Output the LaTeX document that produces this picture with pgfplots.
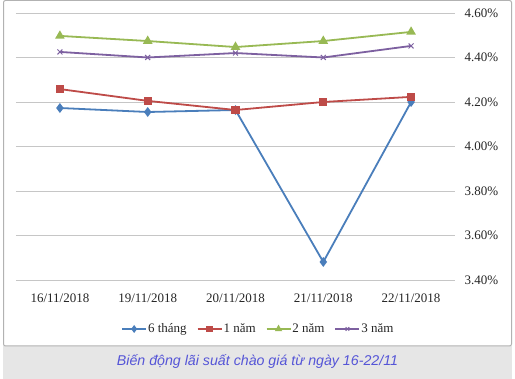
\documentclass[border=0pt]{standalone}
\usepackage{fontspec}
\setmainfont{Liberation Serif}
\newfontfamily\capfont{Liberation Sans}
\usepackage{pgfplots}
\pgfplotsset{compat=1.18}
\definecolor{cblue}{RGB}{74,126,187}
\definecolor{cred}{RGB}{190,75,72}
\definecolor{cgreen}{RGB}{152,185,84}
\definecolor{cpurple}{RGB}{125,96,160}
\definecolor{capbg}{RGB}{230,230,230}
\definecolor{captext}{RGB}{85,85,215}
\begin{document}
\begin{tikzpicture}[x=1pt,y=1pt]
\useasboundingbox (0,0) rectangle (515,379);
\fill[white] (0,0) rectangle (515,379);
\fill[capbg] (3,0) rectangle (512,33);
\draw[gray!60, line width=1pt, rounded corners=2pt] (3.5,33) rectangle (511.5,378.5);
\node[font=\capfont\itshape\fontsize{14.2}{16}\selectfont, text=captext] at (257.5,17) {Biến động lãi suất chào giá từ ngày 16-22/11};
\begin{axis}[
  at={(16pt,99pt)}, anchor=south west,
  scale only axis, width=439pt, height=267pt,
  xmin=-0.5, xmax=4.5, ymin=3.4, ymax=4.6,
  xtick={0,1,2,3,4},
  xticklabels={16/11/2018,19/11/2018,20/11/2018,21/11/2018,22/11/2018},
  ytick={3.4,3.6,3.8,4.0,4.2,4.4,4.6},
  yticklabels={3.40\%,3.60\%,3.80\%,4.00\%,4.20\%,4.40\%,4.60\%},
  yticklabel pos=right,
  axis line style={draw=none},
  major tick style={draw=none},
  ymajorgrids, grid style={gray!45, line width=0.8pt},
  ticklabel style={font=\fontsize{13}{15}\selectfont, text=black!85},
  xticklabel style={anchor=center, yshift=-18pt},
  yticklabel style={anchor=west, xshift=6pt},
  clip=false,
  legend columns=4,
  legend style={at={(0.551,-0.1835)}, anchor=center, draw=none, fill=none,
    font=\fontsize{13}{15}\selectfont, text=black!85,
    nodes={inner xsep=1pt},
    /tikz/every even column/.append style={column sep=9pt}},
  legend image code/.code={\draw[mark repeat=2,mark phase=2, mark size=2.5pt] plot coordinates {(0pt,0pt)(12pt,0pt)(24pt,0pt)};},
  every axis plot/.append style={line width=1.8pt},
]
\addplot[color=cblue, mark=diamond*, mark size=3.5pt, mark options={solid}] coordinates {(0,4.173) (1,4.155) (2,4.164) (3,3.481) (4,4.20)};
\addlegendentry{6 tháng}
\addplot[color=cred, mark=square*, mark size=3.2pt] coordinates {(0,4.258) (1,4.205) (2,4.164) (3,4.20) (4,4.223)};
\addlegendentry{1 năm}
\addplot[color=cgreen, mark=triangle*, mark size=3.8pt] coordinates {(0,4.497) (1,4.474) (2,4.447) (3,4.474) (4,4.515)};
\addlegendentry{2 năm}
\addplot[color=cpurple, mark=x, mark size=3.5pt, mark options={line width=1pt}] coordinates {(0,4.425) (1,4.40) (2,4.42) (3,4.40) (4,4.452)};
\addlegendentry{3 năm}
\end{axis}
\end{tikzpicture}
\end{document}
